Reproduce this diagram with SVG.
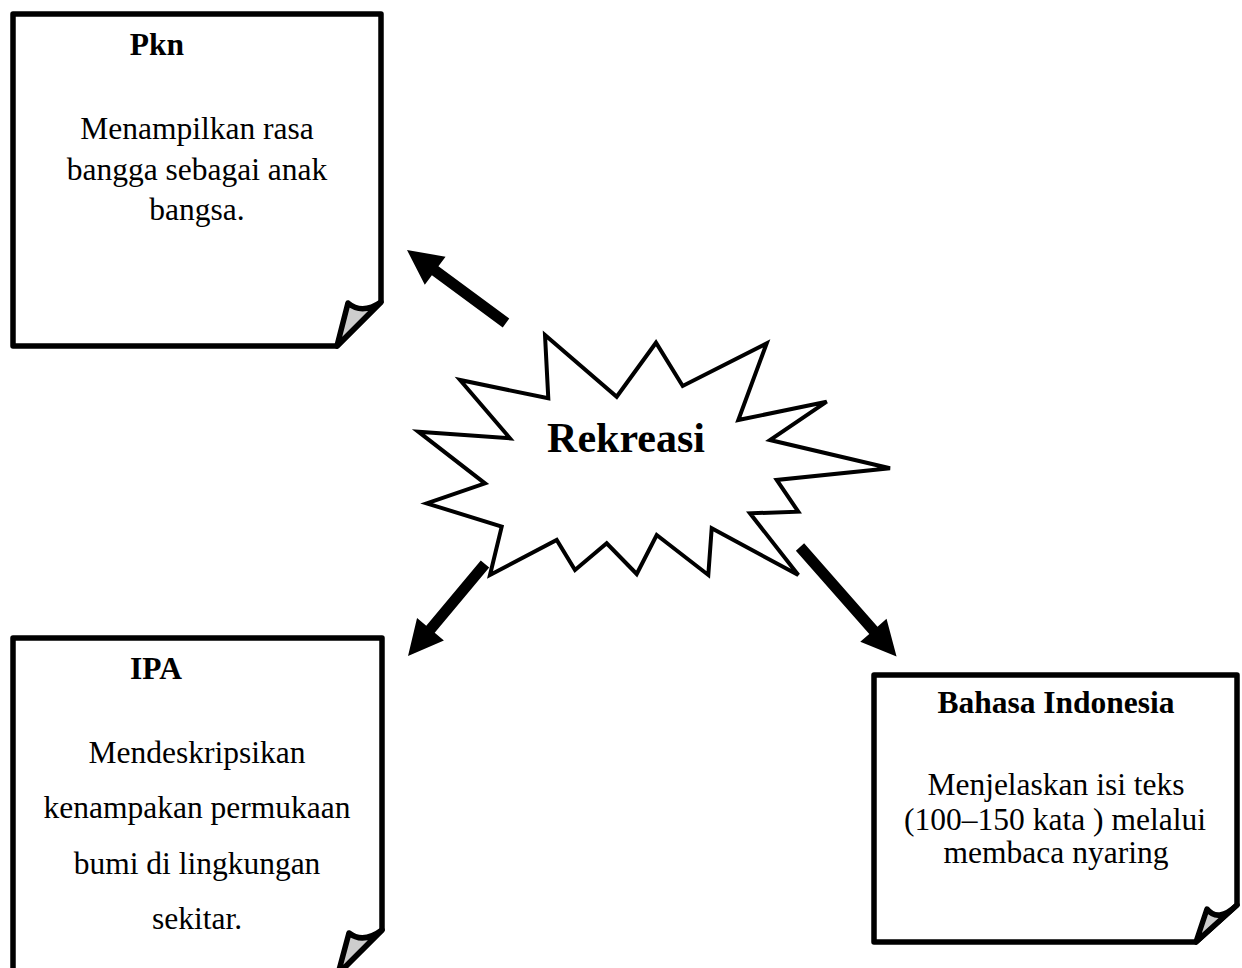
<svg xmlns="http://www.w3.org/2000/svg" width="1242" height="968" viewBox="0 0 1242 968">
<style>
.box{fill:#fff;stroke:#000;stroke-width:5.5;stroke-linejoin:round}
.flap{fill:#cdcdcd;stroke:#000;stroke-width:5.5;stroke-linejoin:round}
.t{font-family:"Liberation Serif","Times New Roman",serif;font-size:31.5px;fill:#000;text-anchor:middle}
.b{font-weight:bold}
.arrow{fill:#000;stroke:none}
.burst{fill:#fff;stroke:#000;stroke-width:4;stroke-linejoin:miter}
</style>
<rect width="1242" height="968" fill="#fff"/>
<g id="connectors">
<path class="arrow" transform="translate(506,323) rotate(216.4)" d="M0,-5.5 H88 V-17.5 L123,0 L88,17.5 V5.5 H0 Z"/>
<path class="arrow" transform="translate(485,564) rotate(129.9)" d="M0,-5.5 H85 V-17.5 L120,0 L85,17.5 V5.5 H0 Z"/>
<path class="arrow" transform="translate(800,547) rotate(48.6)" d="M0,-5.5 H111 V-17.5 L146,0 L111,17.5 V5.5 H0 Z"/>
</g>
<g id="node-pkn">
<path class="box" d="M13,14 H381 V302 L337,346 H13 Z"/>
<path class="flap" d="M337,346 L348,303 Q362,315 381,302 Z"/>
<text class="t b" x="157" y="55">Pkn</text>
<text class="t" x="197" y="139">Menampilkan rasa</text>
<text class="t" x="197" y="180">bangga sebagai anak</text>
<text class="t" x="197" y="220">bangsa.</text>
</g>
<g id="node-rekreasi">
<polygon class="burst" points="545,335 616.7,396.7 656,342.7 682.7,386 766.7,343.3 738.3,420 826.7,401.7 770,440 890,468.3 776.7,480 798.3,511.7 750,513.3 798.3,575 711.7,528.3 708.3,575 656.7,535 636.7,574 606.7,543.3 575,570 556.7,540 490,575 501.7,526.7 426.7,503.3 485,483.3 418.3,431.7 510,438.3 460,380 548.3,398.3"/>
<text class="t b" x="626" y="452" style="font-size:42px">Rekreasi</text>
</g>
<g id="node-ipa">
<path class="box" d="M13,638 H382 V930 L338,974 H13 Z"/>
<path class="flap" d="M338,974 L349,933 Q363,944 382,930 Z"/>
<text class="t b" x="156" y="679">IPA</text>
<text class="t" x="197" y="763">Mendeskripsikan</text>
<text class="t" x="197" y="818">kenampakan permukaan</text>
<text class="t" x="197" y="874">bumi di lingkungan</text>
<text class="t" x="197" y="929">sekitar.</text>
</g>
<g id="node-bahasa">
<path class="box" d="M874,675 H1237 V905 L1196,942 H874 Z"/>
<path class="flap" d="M1196,942 L1207,909 Q1218,923 1237,905 Z"/>
<text class="t b" x="1056" y="713">Bahasa Indonesia</text>
<text class="t" x="1056" y="795">Menjelaskan isi teks</text>
<text class="t" x="1055" y="830">(100–150 kata ) melalui</text>
<text class="t" x="1056" y="863">membaca nyaring</text>
</g>
</svg>
